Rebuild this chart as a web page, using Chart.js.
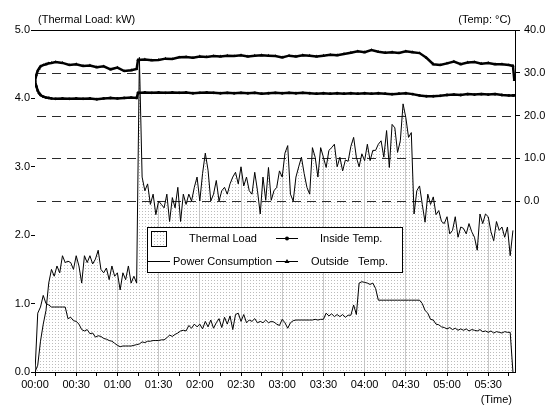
<!DOCTYPE html>
<html><head><meta charset="utf-8">
<script src="https://cdn.jsdelivr.net/npm/chart.js@4.4.1/dist/chart.umd.min.js"></script>
<style>html,body{margin:0;padding:0;background:#fff}canvas{display:block}</style>
</head><body>
<canvas id="c" width="548" height="409"></canvas>
<script>
// ---- data (minutes from 00:00) ----
const loadStepMin = 2; // sampling interval of thermal load / power consumption
const thermalLoad = [
0.0,0.1,0.45,0.7,0.9,1.3,1.5,1.4,1.55,1.45,
1.7,1.6,1.62,1.6,1.5,1.7,1.55,1.3,1.7,1.6,
1.7,1.58,1.65,1.78,1.5,1.45,1.52,1.35,1.55,1.4,
1.45,1.2,1.45,1.35,1.55,1.3,1.4,1.3,4.6,2.85,
2.65,2.75,2.45,2.6,2.3,2.5,2.45,2.4,2.6,2.2,
2.55,2.4,2.7,2.2,2.6,2.45,2.6,2.5,2.7,2.85,
2.5,2.9,3.2,2.95,2.5,2.6,2.8,2.5,2.65,2.7,
2.6,2.75,2.85,2.92,2.75,3.0,2.72,2.85,2.65,2.6,
2.92,2.65,2.31,2.85,2.51,2.99,2.51,2.65,2.7,2.94,
2.85,3.2,3.31,2.6,2.5,2.85,3.0,3.14,2.9,2.7,
2.6,3.28,3.14,2.85,3.28,3.14,2.99,3.24,3.28,3.33,
3.0,3.14,2.94,3.1,3.08,3.3,3.43,3.14,3.0,3.19,
3.09,3.33,3.09,3.24,3.24,3.33,3.38,3.14,3.53,2.99,
3.62,3.57,3.21,3.38,3.92,3.72,3.43,3.5,2.31,2.65,
2.72,2.45,2.19,2.6,2.45,2.56,2.3,2.36,2.2,2.17,
2.27,2.02,2.07,2.27,1.97,2.12,2.1,2.02,2.17,2.05,
1.97,1.78,2.31,2.17,2.31,2.27,2.05,1.92,2.2,2.07,
2.12,1.97,2.12,1.70,2.07];
const powerConsumption = [
0,0.86,0.95,1.12,1.0,0.98,0.95,0.95,0.95,0.95,
0.95,0.95,0.78,0.8,0.75,0.74,0.7,0.62,0.6,0.62,
0.56,0.57,0.51,0.53,0.52,0.49,0.48,0.46,0.45,0.42,
0.39,0.37,0.38,0.38,0.38,0.38,0.39,0.4,0.41,0.44,
0.43,0.45,0.45,0.46,0.46,0.46,0.47,0.47,0.5,0.54,
0.52,0.55,0.57,0.6,0.61,0.6,0.68,0.64,0.7,0.66,
0.7,0.63,0.74,0.66,0.76,0.64,0.72,0.78,0.65,0.8,
0.7,0.82,0.62,0.84,0.86,0.74,0.84,0.72,0.76,0.74,
0.78,0.72,0.74,0.72,0.76,0.72,0.74,0.73,0.7,0.68,
0.77,0.72,0.64,0.72,0.75,0.76,0.76,0.76,0.76,0.76,
0.76,0.76,0.77,0.76,0.77,0.77,0.86,0.82,0.85,0.81,
0.84,0.81,0.84,0.8,0.83,0.83,0.98,0.84,1.3,1.32,
1.31,1.3,1.28,1.3,1.22,1.05,1.05,1.05,1.05,1.05,
1.05,1.05,1.05,1.05,1.05,1.05,1.05,1.05,1.05,1.05,
1.05,1.0,0.9,0.86,0.77,0.76,0.7,0.69,0.66,0.65,
0.63,0.65,0.62,0.64,0.61,0.63,0.61,0.63,0.6,0.62,
0.61,0.6,0.62,0.59,0.6,0.58,0.6,0.57,0.59,0.58,
0.57,0.59,0.58,0.58,0];
const tempTimes = [0,1,2,3,4,6,8,10,12,15,20,25,30,35,40,45,50,55,60,65,70,74,75,
80,85,90,95,100,105,110,115,120,125,130,135,140,145,150,155,160,165,170,175,
180,185,190,195,200,205,210,215,220,225,230,235,240,245,250,255,260,265,270,275,
280,285,290,295,300,305,310,315,320,325,330,335,340,345,348,349];
const insideTemp = [28.1,26.8,25.8,25.2,24.8,24.4,24.2,24.1,24.0,23.9,24.0,23.9,24.0,23.9,24.0,23.8,24.0,24.1,24.0,24.1,24.2,24.1,25.3,
25.4,25.3,25.4,25.3,25.4,25.3,25.4,25.2,25.3,25.4,
25.3,25.2,25.3,25.2,25.3,25.2,25.3,25.1,25.2,25.3,
25.2,25.3,25.2,25.3,25.2,25.1,25.2,25.1,25.2,25.1,
25.2,25.1,25.2,25.1,25.2,25.1,25.0,25.1,25.2,25.0,
24.7,24.5,24.5,24.6,24.8,24.9,24.8,25.0,24.9,25.0,
24.9,25.0,24.8,24.7,24.7,24.7];
const outsideTemp = [28.1,29.5,30.5,31.0,31.5,31.8,32.0,32.2,32.3,32.5,32.3,31.8,32.0,31.6,31.7,31.3,31.5,30.8,31.2,30.4,30.6,30.9,33.0,
33.1,32.9,33.0,33.3,33.2,33.6,33.7,33.5,33.8,33.7,
33.9,33.8,34.0,33.9,34.1,33.8,34.0,34.1,34.0,33.9,
33.6,34.0,33.8,34.1,34.0,33.8,34.0,34.2,34.1,34.4,
34.7,35.0,34.8,35.3,34.9,34.7,34.8,34.6,35.0,34.8,
34.6,33.5,32.0,31.8,32.2,32.6,32.0,32.4,32.5,32.1,
32.3,32.0,32.0,31.8,31.6,28.3];
const timeTickLabels = ['00:00','00:30','01:00','01:30','02:00','02:30','03:00','03:30','04:00','04:30','05:00','05:30'];
const tempRefLines = [0,10,20,30];
const seriesLabels = ['Thermal Load','Power Consumption','Inside Temp.','Outside   Temp.'];

const loadTimes = thermalLoad.map((_, i) => i * loadStepMin);
const pts = (times, vals) => vals.map((v, i) => ({x: times[i], y: v}));

const FONT = "'Liberation Sans', Arial, sans-serif";
Chart.defaults.font.family = FONT;
Chart.defaults.font.size = 11;
Chart.defaults.color = '#000';

const canvas = document.getElementById('c');
const ctx0 = canvas.getContext('2d');
const pc = document.createElement('canvas'); pc.width = 3; pc.height = 3;
const pctx = pc.getContext('2d'); pctx.fillStyle = '#bcbcbc'; pctx.fillRect(1, 1, 1, 1);
const dots = ctx0.createPattern(pc, 'repeat');

const decor = {
  id: 'decor',
  beforeDatasetsDraw(chart) {
    const {ctx, chartArea: a, scales} = chart;
    ctx.save();
    ctx.strokeStyle = '#2a2a2a'; ctx.lineWidth = 1.2; ctx.setLineDash([9, 6]);
    tempRefLines.forEach(v => {
      const y = Math.round(scales.y2.getPixelForValue(v)) + 0.5;
      ctx.beginPath(); ctx.moveTo(a.left + 2, y); ctx.lineTo(a.right, y); ctx.stroke();
    });
    ctx.restore();
  },
  afterDatasetsDraw(chart) {
    const {ctx, chartArea: a} = chart;
    ctx.save();
    // top frame line
    ctx.strokeStyle = '#000'; ctx.lineWidth = 1;
    ctx.beginPath(); ctx.moveTo(a.left, a.top + 0.5); ctx.lineTo(a.right, a.top + 0.5); ctx.stroke();
    // titles
    ctx.fillStyle = '#000'; ctx.font = '11px ' + FONT; ctx.textBaseline = 'middle';
    ctx.textAlign = 'left'; ctx.fillText('(Thermal Load: kW)', 38, 20);
    ctx.textAlign = 'right'; ctx.fillText('(Temp: °C)', 511, 20);
    ctx.fillText('(Time)', 512, 400);
    // legend
    const L = 147.5, T = 227.5, W = 255, H = 45;
    ctx.fillStyle = '#fff'; ctx.fillRect(L, T, W, H);
    ctx.strokeRect(L, T, W, H);
    const r1 = 239, r2 = 262;
    ctx.fillStyle = dots; ctx.fillRect(151.5, 231.5, 15, 15);
    ctx.strokeRect(151.5, 231.5, 15, 15);
    ctx.fillStyle = '#000'; ctx.textAlign = 'left';
    ctx.fillText(seriesLabels[0], 189, r1);
    ctx.fillText(seriesLabels[1], 173, r2);
    ctx.fillText(seriesLabels[2], 320, r1);
    ctx.fillText(seriesLabels[3], 311, r2);
    ctx.lineWidth = 1;
    ctx.beginPath(); ctx.moveTo(148, r2 - 0.5); ctx.lineTo(170, r2 - 0.5); ctx.stroke();
    ctx.beginPath(); ctx.moveTo(276, r1 - 0.5); ctx.lineTo(298, r1 - 0.5); ctx.stroke();
    ctx.beginPath(); ctx.moveTo(276, r2 - 0.5); ctx.lineTo(298, r2 - 0.5); ctx.stroke();
    ctx.beginPath(); ctx.arc(287, r1 - 0.5, 2, 0, Math.PI * 2); ctx.fill();
    ctx.beginPath(); ctx.moveTo(287, r2 - 3); ctx.lineTo(289.5, r2 + 1); ctx.lineTo(284.5, r2 + 1); ctx.closePath(); ctx.fill();
    ctx.restore();
  }
};

new Chart(canvas, {
  type: 'line',
  data: {
    datasets: [
      {label: seriesLabels[0], data: pts(loadTimes, thermalLoad), yAxisID: 'y',
       borderColor: '#000', borderWidth: 1, pointRadius: 0, fill: 'origin', backgroundColor: dots, order: 3},
      {label: 'mask', data: pts(loadTimes, thermalLoad), yAxisID: 'y',
       borderWidth: 0, borderColor: 'rgba(0,0,0,0)', pointRadius: 0, fill: 'end', backgroundColor: '#fff', order: 4},
      {label: seriesLabels[1], data: pts(loadTimes, powerConsumption), yAxisID: 'y',
       borderColor: '#000', borderWidth: 1, pointRadius: 0, fill: false, order: 2},
      {label: seriesLabels[2], data: pts(tempTimes, insideTemp), yAxisID: 'y2',
       borderColor: '#000', borderWidth: 2.5, pointStyle: 'circle', pointRadius: 1.4,
       pointBackgroundColor: '#000', pointBorderWidth: 0, fill: false, order: 1},
      {label: seriesLabels[3], data: pts(tempTimes, outsideTemp), yAxisID: 'y2',
       borderColor: '#000', borderWidth: 2.5, pointStyle: 'triangle', pointRadius: 1.9,
       pointBackgroundColor: '#000', pointBorderWidth: 0, fill: false, order: 0}
    ]
  },
  options: {
    responsive: false, animation: false, devicePixelRatio: 1,
    layout: {padding: {top: 30, left: 0, right: 0, bottom: 0}},
    elements: {line: {tension: 0}},
    plugins: {
      legend: {display: false}, tooltip: {enabled: false}, title: {display: false},
      filler: {propagate: false, drawTime: 'beforeDatasetsDraw'}
    },
    scales: {
      x: {
        type: 'linear', min: 0, max: 349.5,
        afterFit: s => { s.height = 37; },
        border: {display: true, color: '#000', width: 1},
        grid: {
          drawOnChartArea: true, drawTicks: true, tickLength: 4, lineWidth: 1,
          color: c => (c.tick && c.tick.value % 30 === 0 && c.tick.value > 0) ? '#c8c8c8' : 'rgba(0,0,0,0)',
          tickColor: '#000'
        },
        ticks: {
          stepSize: 15, autoSkip: false, maxRotation: 0, includeBounds: false, padding: 2,
          callback: v => (v % 30 === 0) ? timeTickLabels[v / 30] : ''
        }
      },
      y: {
        position: 'left', min: 0, max: 5,
        afterFit: s => { s.width = 35; },
        border: {display: true, color: '#000', width: 1},
        grid: {drawOnChartArea: false, drawTicks: true, tickLength: 4, color: '#000', tickColor: '#000'},
        ticks: {stepSize: 1, padding: 1, callback: v => v.toFixed(1)}
      },
      y2: {
        position: 'right', min: -40, max: 40,
        afterFit: s => { s.width = 33; },
        border: {display: true, color: '#000', width: 1},
        grid: {drawOnChartArea: false, drawTicks: true, tickLength: 5, color: '#000',
               tickColor: c => (c.tick && c.tick.value >= 0) ? '#000' : 'rgba(0,0,0,0)'},
        ticks: {stepSize: 10, padding: 4, callback: v => v >= 0 ? v.toFixed(1) : ''}
      }
    }
  },
  plugins: [decor]
});
</script>
</body></html>
